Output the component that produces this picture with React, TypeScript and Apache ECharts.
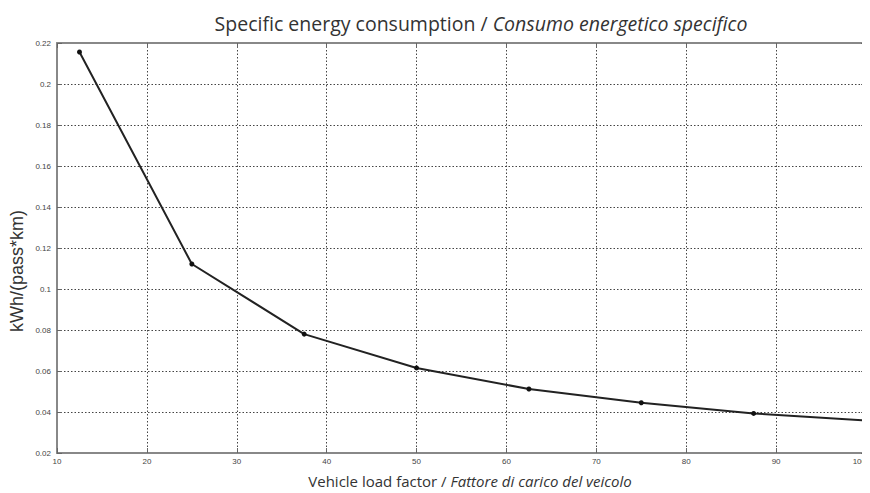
import React, { useEffect, useRef } from "react";
import * as echarts from "echarts";

// Vehicle load factor (%) and specific energy consumption (kWh/(pass*km))
const loadFactor = [12.5, 25, 37.5, 50, 62.5, 75, 87.5, 100];
const consumption = [0.2156, 0.1122, 0.078, 0.0615, 0.0512, 0.0445, 0.0393, 0.0358];

const xTicks = [10, 20, 30, 40, 50, 60, 70, 80, 90, 100];
const yTicks = [0.02, 0.04, 0.06, 0.08, 0.1, 0.12, 0.14, 0.16, 0.18, 0.2, 0.22];

const titleText = "Specific energy consumption / ";
const titleItalic = "Consumo energetico specifico";
const xName = "Vehicle load factor / ";
const xNameItalic = "Fattore di carico del veicolo";
const yName = "kWh/(pass*km)";

export default function App() {
  const ref = useRef<HTMLDivElement>(null);

  useEffect(() => {
    if (!ref.current) return;
    const chart = echarts.init(ref.current, undefined, { renderer: "svg" });
    const gridLine = { show: true, lineStyle: { color: "#444", type: [1.5, 2] as any, width: 1 } };
    const axisLine = { show: true, lineStyle: { color: "#888", width: 2 } };
    const tick = { show: true, inside: true, length: 5, lineStyle: { color: "#666" } };
    const labelStyle = { color: "#444", fontSize: 8, fontFamily: "Liberation Sans" };
    chart.setOption({
      animation: false,
      backgroundColor: "#fff",
      title: {
        text: `{n|${titleText}}{i|${titleItalic}}`,
        left: 476,
        top: 8,
        textAlign: "center",
        textStyle: {
          fontWeight: "normal",
          rich: {
            n: { fontSize: 19.5, fontWeight: "normal", fontFamily: "Open Sans", color: "#333" },
            i: {
              fontSize: 19.5,
              fontWeight: "normal",
              fontFamily: "Open Sans",
              fontStyle: "italic",
              color: "#333",
            },
          },
        },
      },
      grid: { left: 57, top: 43, right: 4, bottom: 40, outerBoundsMode: "none" },
      graphic: [
        {
          type: "text",
          x: 470,
          y: 481,
          style: {
            text: `{n|${xName}}{i|${xNameItalic}}`,
            align: "center",
            verticalAlign: "middle",
            rich: {
              n: { fontSize: 15, fontFamily: "Open Sans", fill: "#333" },
              i: { fontSize: 15, fontFamily: "Open Sans", fontStyle: "italic", fill: "#333" },
            },
          },
        },
        {
          type: "text",
          x: 17,
          y: 271,
          rotation: Math.PI / 2,
          style: {
            text: yName,
            align: "center",
            verticalAlign: "middle",
            fontSize: 18,
            fontFamily: "Liberation Sans",
            fill: "#333",
          },
        },
      ],
      xAxis: [
        {
          type: "value",
          min: xTicks[0],
          max: xTicks[xTicks.length - 1],
          interval: 10,
          axisLine,
          axisTick: tick,
          axisLabel: { ...labelStyle, margin: 4, alignMaxLabel: "right" },
          splitLine: gridLine,
        },
        {
          type: "value",
          position: "top",
          min: xTicks[0],
          max: xTicks[xTicks.length - 1],
          interval: 10,
          axisLine,
          axisTick: tick,
          axisLabel: { show: false },
          splitLine: { show: false },
        },
      ],
      yAxis: [
        {
          type: "value",
          min: yTicks[0],
          max: yTicks[yTicks.length - 1],
          interval: 0.02,
          axisLine,
          axisTick: tick,
          axisLabel: {
            ...labelStyle,
            margin: 6,
            formatter: (v: number) => String(parseFloat(v.toFixed(2))),
          },
          splitLine: gridLine,
        },
        {
          type: "value",
          position: "right",
          min: yTicks[0],
          max: yTicks[yTicks.length - 1],
          interval: 0.02,
          axisLine,
          axisTick: tick,
          axisLabel: { show: false },
          splitLine: { show: false },
        },
      ],
      series: [
        {
          type: "line",
          data: loadFactor.map((x, i) => [x, consumption[i]]),
          symbol: "circle",
          symbolSize: 5,
          itemStyle: { color: "#111" },
          lineStyle: { color: "#222", width: 2 },
        },
      ],
    });
    return () => chart.dispose();
  }, []);

  return <div ref={ref} style={{ width: 870, height: 493, marginLeft: -8, marginTop: -8 }} />;
}
